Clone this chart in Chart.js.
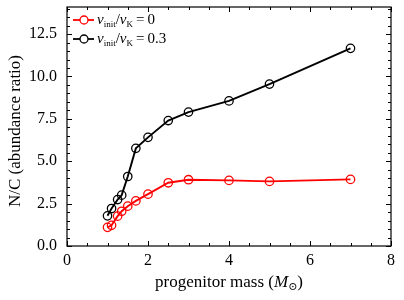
<!DOCTYPE html>
<html>
<head>
<meta charset="utf-8">
<script src="https://cdn.jsdelivr.net/npm/chart.js@4.4.1/dist/chart.umd.min.js"></script>
<style>
  html, body { margin: 0; padding: 0; background: #fff; }
  #wrap { width: 404px; height: 300px; }
</style>
</head>
<body>
<div id="wrap"><canvas id="myChart" width="404" height="300"></canvas></div>
<script>
// masa del progenitor (M_sun)
const masses = [1, 1.1, 1.25, 1.35, 1.5, 1.7, 2, 2.5, 3, 4, 5, 7];
// N/C para v_init/v_K = 0
const ncNoRot = [1.1, 1.22, 1.76, 2.05, 2.35, 2.66, 3.06, 3.73, 3.91, 3.87, 3.81, 3.93];
// N/C para v_init/v_K = 0.3
const ncRot = [1.78, 2.21, 2.74, 3.0, 4.1, 5.76, 6.41, 7.4, 7.9, 8.56, 9.55, 11.66];
const xTicks = [0, 2, 4, 6, 8];
const yTicks = [0, 2.5, 5, 7.5, 10, 12.5];
const seriesValues = ['0', '0.3'];

const SERIF = "'Liberation Serif', 'DejaVu Serif', serif";

function toPoints(ys) {
  return masses.map((m, i) => ({ x: m, y: ys[i] }));
}

// Ticks hacia dentro, marco y minor ticks
const framePlugin = {
  id: 'frame',
  afterDatasetsDraw(chart) {
    const { ctx, chartArea: a, scales } = chart;
    const xs = scales.x, ys = scales.y;
    ctx.save();
    ctx.strokeStyle = '#000';
    ctx.lineWidth = 1.2;
    ctx.strokeRect(a.left, a.top, a.right - a.left, a.bottom - a.top);
    ctx.lineWidth = 1;
    ctx.beginPath();
    for (let v = 0; v <= 8.001; v += 0.5) {
      const px = Math.round(xs.getPixelForValue(v)) + 0.5;
      const len = Math.abs(v % 2) < 1e-6 ? 5 : 3;
      ctx.moveTo(px, a.bottom); ctx.lineTo(px, a.bottom - len);
      ctx.moveTo(px, a.top); ctx.lineTo(px, a.top + len);
    }
    for (let v = 0; v <= ys.max + 1e-6; v += 0.5) {
      const py = Math.round(ys.getPixelForValue(v)) + 0.5;
      const len = Math.abs(v % 2.5) < 1e-6 ? 5 : 3;
      ctx.moveTo(a.left, py); ctx.lineTo(a.left + len, py);
      ctx.moveTo(a.right, py); ctx.lineTo(a.right - len, py);
    }
    ctx.stroke();
    ctx.restore();
  },
  afterDraw(chart) {
    const { ctx, chartArea: a } = chart;
    ctx.save();
    ctx.fillStyle = '#000';
    // titulo eje x
    const cx = (a.left + a.right) / 2;
    const y = 287;
    const parts = [
      { t: 'progenitor mass (', f: '17px ' + SERIF, dy: 0 },
      { t: 'M', f: 'italic 17px ' + SERIF, dy: 0 },
      { t: '⊙', f: '11px ' + SERIF, dy: 3 },
      { t: ')', f: '17px ' + SERIF, dy: 0 }
    ];
    let w = 0;
    parts.forEach(p => { ctx.font = p.f; w += ctx.measureText(p.t).width; });
    let x = cx - w / 2;
    ctx.textBaseline = 'alphabetic';
    parts.forEach(p => { ctx.font = p.f; ctx.fillText(p.t, x, y + p.dy); x += ctx.measureText(p.t).width; });
    // titulo eje y
    ctx.translate(20, 131);
    ctx.rotate(-Math.PI / 2);
    ctx.font = '17px ' + SERIF;
    ctx.textAlign = 'center';
    ctx.fillText('N/C (abundance ratio)', 0, 0);
    ctx.restore();

    // leyenda
    ctx.save();
    chart.data.datasets.forEach((ds, i) => {
      const ly = 20 + i * 19;
      const lx = 73;
      ctx.strokeStyle = ds.borderColor;
      ctx.lineWidth = 1.8;
      ctx.beginPath(); ctx.moveTo(lx, ly); ctx.lineTo(lx + 21, ly); ctx.stroke();
      ctx.fillStyle = '#fff';
      ctx.lineWidth = 1.3;
      ctx.beginPath(); ctx.arc(lx + 11, ly, 4, 0, Math.PI * 2); ctx.fill(); ctx.stroke();
      ctx.fillStyle = '#000';
      ctx.textBaseline = 'alphabetic';
      let tx = lx + 24;
      const base = ly + 4;
      const seg = [
        { t: 'v', f: 'italic 15px ' + SERIF, dy: 0, gap: 0 },
        { t: 'init', f: '9px ' + SERIF, dy: 3, gap: 0 },
        { t: '/', f: '15px ' + SERIF, dy: 0, gap: 0 },
        { t: 'v', f: 'italic 15px ' + SERIF, dy: 0, gap: 0 },
        { t: 'K', f: '9px ' + SERIF, dy: 3, gap: 3 },
        { t: '=', f: '15px ' + SERIF, dy: 0, gap: 3 },
        { t: seriesValues[i], f: '15px ' + SERIF, dy: 0, gap: 0 }
      ];
      seg.forEach(s => { ctx.font = s.f; ctx.fillText(s.t, tx, base + s.dy); tx += ctx.measureText(s.t).width + s.gap; });
    });
    ctx.restore();
  }
};

const ctx = document.getElementById('myChart').getContext('2d');
const chart = new Chart(ctx, {
  type: 'scatter',
  data: {
    datasets: [
      {
        label: 'v_init/v_K = 0',
        data: toPoints(ncNoRot),
        showLine: true,
        borderColor: '#ff0000',
        backgroundColor: 'rgba(255,255,255,0)',
        borderWidth: 1.9,
        pointRadius: 4.2,
        pointBorderWidth: 1.3,
        pointBorderColor: '#ff0000',
        pointBackgroundColor: 'rgba(255,255,255,0)'
      },
      {
        label: 'v_init/v_K = 0.3',
        data: toPoints(ncRot),
        showLine: true,
        borderColor: '#000000',
        backgroundColor: 'rgba(255,255,255,0)',
        borderWidth: 1.9,
        pointRadius: 4.2,
        pointBorderWidth: 1.3,
        pointBorderColor: '#000000',
        pointBackgroundColor: 'rgba(255,255,255,0)'
      }
    ]
  },
  options: {
    responsive: false,
    animation: false,
    layout: { padding: { top: 7, right: 13, left: 0, bottom: 0 } },
    plugins: { legend: { display: false }, tooltip: { enabled: false } },
    scales: {
      x: {
        type: 'linear',
        min: 0,
        max: 8,
        afterBuildTicks: s => { s.ticks = xTicks.map(v => ({ value: v })); },
        afterFit: s => { s.height = 54; s.paddingLeft = 0; s.paddingRight = 0; },
        grid: { display: false, drawTicks: false },
        border: { display: false },
        ticks: {
          padding: 5,
          color: '#000',
          font: { family: SERIF, size: 16 },
          maxRotation: 0,
          callback: v => String(v)
        }
      },
      y: {
        type: 'linear',
        min: 0,
        max: 14.1,
        afterBuildTicks: s => { s.ticks = yTicks.map(v => ({ value: v })); },
        afterFit: s => { s.width = 67; s.paddingTop = 0; s.paddingBottom = 0; },
        grid: { display: false, drawTicks: false },
        border: { display: false },
        ticks: {
          padding: 10,
          color: '#000',
          font: { family: SERIF, size: 16 },
          callback: v => Number(v).toFixed(1)
        }
      }
    }
  },
  plugins: [framePlugin]
});
</script>
</body>
</html>
